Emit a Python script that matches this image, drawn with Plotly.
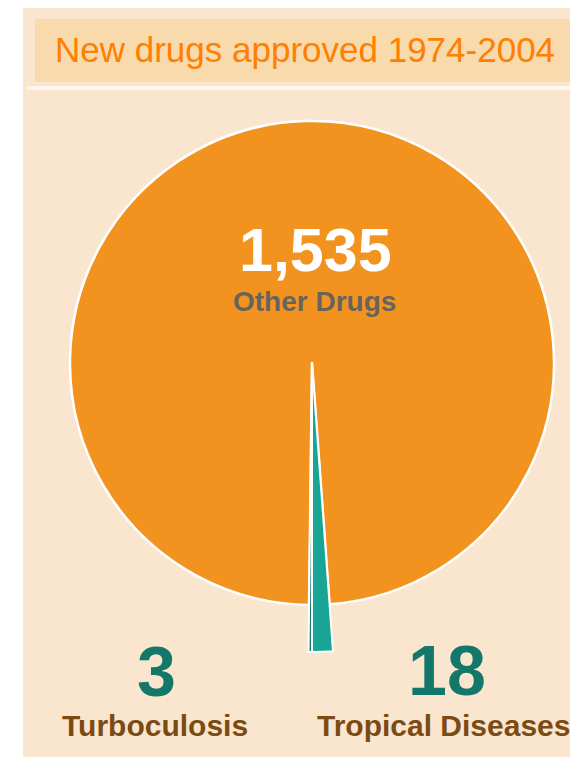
import plotly.graph_objects as go

# the page puts the figure 8px in from the top-left corner
OFF = 8
W, H = 600, 757

# data
labels = ["Turboculosis", "Tropical Diseases", "Other Drugs"]
values = [3, 18, 1535]
value_text = ["3", "18", "1,535"]
title_text = "New drugs approved 1974-2004"

orange = "#F3931F"
teal_dark = "#127E70"
teal = "#19A596"
num_teal = "#13776A"
brown = "#7B4B13"


def px(x, y):
    # screen pixel position (from top-left) -> paper coords
    return (x - OFF) / W, 1 - (y - OFF) / H


def pie_domain(cx, cy, r):
    cx, cy = cx - OFF, cy - OFF
    return dict(x=[(cx - r) / W, (cx + r) / W],
                y=[(H - cy - r) / H, (H - cy + r) / H])


fig = go.Figure()

# big orange pie, small slices left empty
fig.add_trace(go.Pie(
    labels=labels, values=values, sort=False, direction="counterclockwise", rotation=180,
    marker=dict(colors=["rgba(0,0,0,0)", "rgba(0,0,0,0)", orange],
                line=dict(color="white", width=[0, 0, 2.5])),
    textinfo="none", hoverinfo="label+value", showlegend=False,
    domain=pie_domain(312, 363, 242),
))

# the two small slices drawn on a larger radius so they stick out
fig.add_trace(go.Pie(
    labels=labels, values=values, sort=False, direction="counterclockwise", rotation=180,
    marker=dict(colors=[teal_dark, teal, "rgba(0,0,0,0)"],
                line=dict(color="white", width=[2, 2, 0])),
    textinfo="none", hoverinfo="label+value", showlegend=False,
    domain=pie_domain(312, 363, 289),
))

x0, _ = px(23, 0)
_, ytop = px(0, 7)
bx0, _ = px(35, 0)
_, by0 = px(0, 82)
_, by1 = px(0, 19)
lx0, ly = px(27, 88)
shapes = [
    # panel
    dict(type="rect", xref="paper", yref="paper", x0=x0, x1=1, y0=0, y1=min(ytop, 1),
         fillcolor="#FAE6CF", line_width=0, layer="below"),
    # title band
    dict(type="rect", xref="paper", yref="paper", x0=bx0, x1=1, y0=by0, y1=by1,
         fillcolor="#F8DAAC", line_width=0, layer="below"),
    # white rule under the title
    dict(type="line", xref="paper", yref="paper", x0=lx0, x1=1, y0=ly, y1=ly,
         line=dict(color="#FFF7EE", width=4), layer="below"),
]

ann = []


def add_text(text, x, y, size, color, bold=False, xanchor="center"):
    xx, yy = px(x, y)
    ann.append(dict(text=text, x=xx, y=yy, xref="paper", yref="paper", showarrow=False,
                    xanchor=xanchor, yanchor="middle",
                    font=dict(family="Liberation Sans, Arial, sans-serif", size=size, color=color,
                              weight="bold" if bold else "normal")))


add_text(title_text, 53, 50, 35, "#FF7F00", xanchor="left")
add_text(value_text[2], 315, 250, 61, "white", bold=True)
add_text(labels[2], 314, 301, 28, "#67635E", bold=True)
add_text(value_text[0], 156, 672, 70, num_teal, bold=True)
add_text(value_text[1], 447, 671, 70, num_teal, bold=True)
add_text(labels[0], 155, 725, 30, brown, bold=True)
add_text(labels[1], 443, 725, 30, brown, bold=True)

fig.update_layout(
    width=W, height=H,
    margin=dict(l=0, r=0, t=0, b=0),
    paper_bgcolor="white", plot_bgcolor="white",
    shapes=shapes, annotations=ann,
)

fig.write_html("out.html")
